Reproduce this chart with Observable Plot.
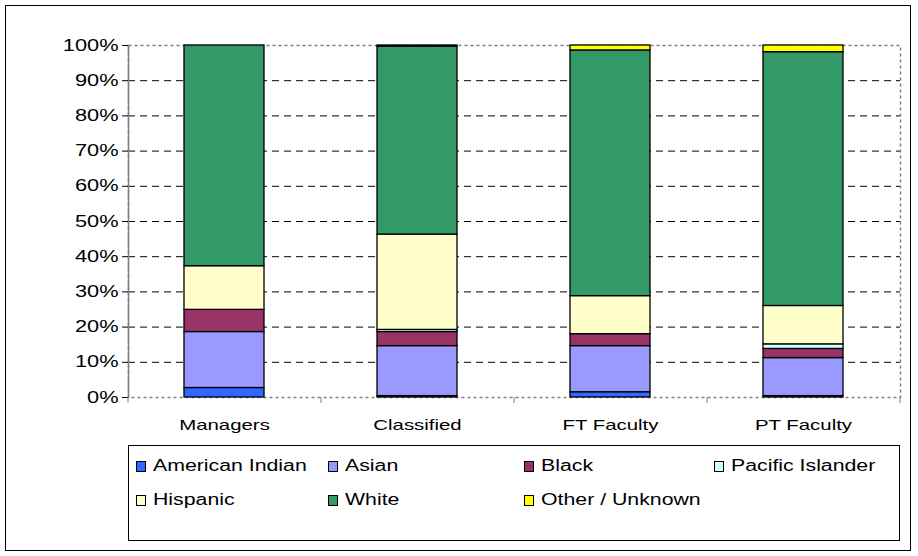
<!DOCTYPE html>
<html><head><meta charset="utf-8">
<script src="https://cdn.jsdelivr.net/npm/d3@7"></script>
<script src="https://cdn.jsdelivr.net/npm/@observablehq/plot@0.6"></script>
<style>
body{margin:0;background:#fff;font-family:"Liberation Sans",Arial,sans-serif;}
#frame{position:absolute;left:5px;top:5px;width:906px;height:546px;border:1px solid #000;box-sizing:border-box;}
#chart{position:absolute;left:0;top:0;}
#legend{position:absolute;left:128px;top:445px;width:772px;height:96px;border:1px solid #000;box-sizing:border-box;background:#fff;}
.item{position:absolute;font-size:16px;line-height:18px;display:flex;align-items:center;white-space:nowrap;color:#000;}
.sw{width:8px;height:9px;border:1px solid #000;margin-right:7px;flex:none;}
.lbl{display:inline-block;transform:scaleX(1.33);transform-origin:left center;}
</style></head><body>
<div id="frame"></div><div id="chart"></div><div id="legend"></div>
<script>
const categories = ["Managers", "Classified", "FT Faculty", "PT Faculty"];
const races = ["American Indian", "Asian", "Black", "Pacific Islander", "Hispanic", "White", "Other / Unknown"];
const raceColors = ["#3366FF", "#9999FF", "#993366", "#CCFFFF", "#FFFFCC", "#339966", "#FFFF00"];
const managers = [2.7, 15.9, 6.3, 0, 12.4, 62.7, 0];
const classified = [0.4, 14.2, 4.0, 0.6, 27.1, 53.4, 0.3];
const ftFaculty = [1.5, 13.1, 3.4, 0, 10.8, 69.8, 1.4];
const ptFaculty = [0.4, 10.8, 2.6, 1.3, 10.9, 72.1, 1.9];
const yTicks = [0, 10, 20, 30, 40, 50, 60, 70, 80, 90, 100];

const series = [managers, classified, ftFaculty, ptFaculty];
const rows = categories.flatMap((c, i) => races.map((r, j) => ({cat: c, race: r, value: series[i][j]})))
  .filter(d => d.value > 0);

const W = 918, H = 445, ML = 128, MR = 18, MT = 45, MB = 48;
const step = (W - ML - MR) / categories.length;

const chart = Plot.plot({
  width: W, height: H,
  marginLeft: ML, marginRight: MR, marginTop: MT, marginBottom: MB,
  style: {fontFamily: "'Liberation Sans', Arial, sans-serif", fontSize: "16px", color: "#000", background: "transparent"},
  x: {domain: categories, paddingInner: 0.585, paddingOuter: 0.2925, label: null},
  y: {domain: [0, 100], label: null},
  color: {domain: races, range: raceColors},
  marks: [
    Plot.ruleY(yTicks.filter(d => d > 0 && d < 100), {stroke: "#000", strokeDasharray: "7,5", strokeWidth: 1}),
    Plot.frame({stroke: "#808080", strokeDasharray: "3,3", strokeWidth: 1.5}),
    Plot.barY(rows, {x: "cat", y: "value", fill: "race", order: races, stroke: "#000", strokeWidth: 1.3}),
    Plot.frame({anchor: "left", stroke: "#808080", strokeWidth: 1.5}),
    Plot.axisY({ticks: yTicks, tickFormat: d => d + "%", tickSize: 6, tickPadding: 4, stroke: "#000", ariaLabel: "y-axis"}),
    Plot.axisX({tickSize: 0, tickPadding: 22, fontSize: 15, ariaLabel: "x-axis"}),
    Plot.ruleX(categories, {x: d => d, y1: 0, y2: 0, dx: -step / 2, insetBottom: -6, stroke: "#808080"}),
    Plot.ruleX(categories.slice(-1), {x: d => d, y1: 0, y2: 0, dx: step / 2, insetBottom: -6, stroke: "#808080"})
  ]
});
document.getElementById("chart").appendChild(chart);

// widen glyphs horizontally like the reference rendering
chart.querySelectorAll("text").forEach(t => {
  const w = t.getComputedTextLength();
  if (w > 0) {
    t.setAttribute("textLength", (w * 1.36).toFixed(1));
    t.setAttribute("lengthAdjust", "spacingAndGlyphs");
  }
});

const legend = document.getElementById("legend");
const colX = [7, 199, 395, 585];
const rowY = [11, 45];
races.forEach((r, i) => {
  const col = i < 4 ? i : i - 4;
  const row = i < 4 ? 0 : 1;
  const item = document.createElement("div");
  item.className = "item";
  item.style.left = colX[col] + "px";
  item.style.top = rowY[row] + "px";
  const sw = document.createElement("span");
  sw.className = "sw";
  sw.style.background = raceColors[i];
  const lbl = document.createElement("span");
  lbl.className = "lbl";
  lbl.textContent = r;
  item.appendChild(sw);
  item.appendChild(lbl);
  legend.appendChild(item);
});
</script>
</body></html>
